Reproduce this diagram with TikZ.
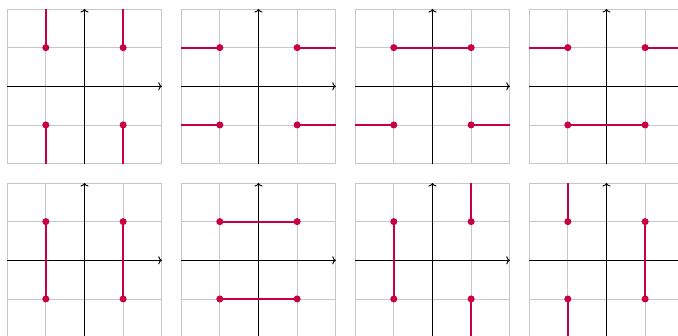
\documentclass[tikz,border=0pt]{standalone}
\usetikzlibrary{arrows.meta}
\definecolor{crim}{HTML}{C8003F}
\tikzset{
  gridline/.style={draw=black!22, line width=0.6pt},
  axisline/.style={draw=black, line width=0.7pt, -{To[length=2.6pt,width=6pt]}},
  seg/.style={draw=crim, line width=1.6pt},
  dot/.style={circle, fill=crim, inner sep=0pt, minimum size=5.2pt},
}
\newcommand\panelbase[3]{%
  \begin{scope}[shift={(#1,#2)}]
    \draw[gridline] (-2,-2) grid (2,2);
    \draw[axisline] (-2,0) -- (2,0);
    \draw[axisline] (0,-2) -- (0,2);
    \coordinate (#3a) at (-1,1);
    \coordinate (#3b) at (1,1);
    \coordinate (#3c) at (-1,-1);
    \coordinate (#3d) at (1,-1);
    \coordinate (#3aT) at (-1,2);
    \coordinate (#3aL) at (-2,1);
    \coordinate (#3bT) at (1,2);
    \coordinate (#3bR) at (2,1);
    \coordinate (#3cB) at (-1,-2);
    \coordinate (#3cL) at (-2,-1);
    \coordinate (#3dB) at (1,-2);
    \coordinate (#3dR) at (2,-1);
  \end{scope}}
\newcommand\paneldots[1]{%
  \node[dot] (#1A) at (#1a) {};
  \node[dot] (#1B) at (#1b) {};
  \node[dot] (#1C) at (#1c) {};
  \node[dot] (#1D) at (#1d) {};}
\begin{document}
\begin{tikzpicture}
\useasboundingbox (-2.185,-6.457) rectangle (15.35,2.232);
% row 1
\panelbase{0}{0}{p}
\draw[seg] (pa) -- (paT) (pb) -- (pbT) (pc) -- (pcB) (pd) -- (pdB);
\paneldots{p}
\panelbase{4.5}{0}{q}
\draw[seg] (qa) -- (qaL) (qb) -- (qbR) (qc) -- (qcL) (qd) -- (qdR);
\paneldots{q}
\panelbase{9}{0}{r}
\draw[seg] (ra) -- (rb) (rc) -- (rcL) (rd) -- (rdR);
\paneldots{r}
\panelbase{13.5}{0}{s}
\draw[seg] (sa) -- (saL) (sb) -- (sbR) (sc) -- (sd);
\paneldots{s}
% row 2
\panelbase{0}{-4.5}{t}
\draw[seg] (ta) -- (tc) (tb) -- (td);
\paneldots{t}
\panelbase{4.5}{-4.5}{u}
\draw[seg] (ua) -- (ub) (uc) -- (ud);
\paneldots{u}
\panelbase{9}{-4.5}{v}
\draw[seg] (va) -- (vc) (vb) -- (vbT) (vd) -- (vdB);
\paneldots{v}
\panelbase{13.5}{-4.5}{w}
\draw[seg] (wa) -- (waT) (wc) -- (wcB) (wb) -- (wd);
\paneldots{w}
\end{tikzpicture}
\end{document}
